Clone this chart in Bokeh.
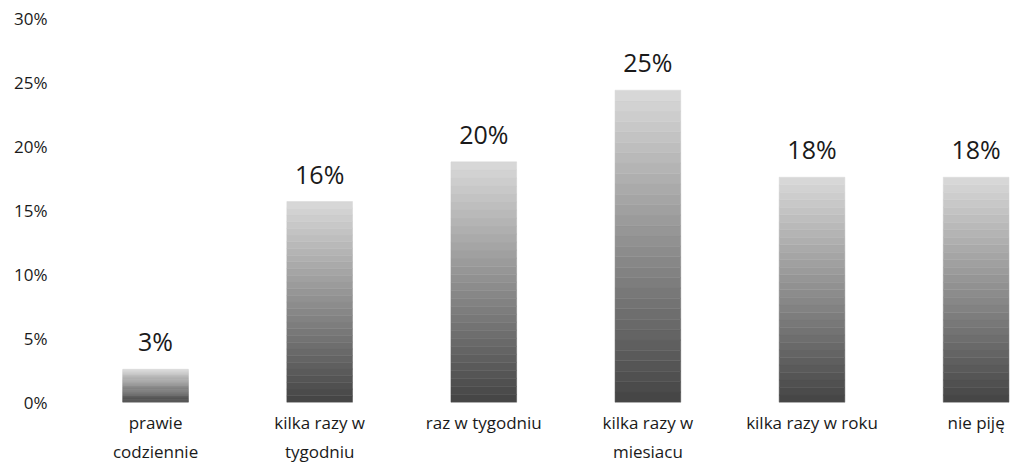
from bokeh.plotting import figure
from bokeh.models import Range1d, FixedTicker, NumeralTickFormatter, ColumnDataSource
from bokeh.core.properties import value
from bokeh.embed import file_html
from bokeh.resources import INLINE

categories = ["prawie\ncodziennie", "kilka razy w\ntygodniu", "raz w tygodniu",
              "kilka razy w\nmiesiacu", "kilka razy w roku", "nie piję"]
values = [0.026, 0.157, 0.188, 0.244, 0.176, 0.176]
value_labels = ["3%", "16%", "20%", "25%", "18%", "18%"]
y_ticks = [0.0, 0.05, 0.10, 0.15, 0.20, 0.25, 0.30]

FONT = "Open Sans"
xs = list(range(len(categories)))

p = figure(width=1015, height=466, output_backend="svg", toolbar_location=None,
           x_range=Range1d(-0.5, 5.24), y_range=Range1d(0, 0.30),
           min_border_left=73, min_border_right=0, min_border_top=18, min_border_bottom=62)
p.outline_line_color = None
p.grid.grid_line_color = None
p.background_fill_color = "white"

# gradient bars built from stacked slices
N = 30
dark = (70, 70, 70)
light = (215, 215, 215)
bx, bb, bt, bc = [], [], [], []
for x, v in zip(xs, values):
    for i in range(N):
        f = i / (N - 1)
        c = tuple(int(dark[k] + (light[k] - dark[k]) * f) for k in range(3))
        bx.append(x)
        bb.append(v * i / N)
        bt.append(v * (i + 1) / N)
        bc.append("#%02x%02x%02x" % c)
src = ColumnDataSource(dict(x=bx, bottom=bb, top=bt, color=bc))
p.vbar(x="x", bottom="bottom", top="top", width=0.4, fill_color="color",
       line_color="color", line_width=0.5, source=src)

lab = ColumnDataSource(dict(x=xs, y=values, t=value_labels))
p.text(x="x", y="y", text="t", source=lab, text_align="center", text_baseline="bottom",
       y_offset=-11, text_font=value(FONT), text_font_size="25px", text_color="#1a1a1a")

p.xaxis.ticker = FixedTicker(ticks=xs)
p.xaxis.major_label_overrides = {i: c for i, c in enumerate(categories)}
p.xaxis.axis_line_color = None
p.xaxis.major_tick_line_color = None
p.xaxis.minor_tick_line_color = None
p.xaxis.major_tick_in = 0
p.xaxis.major_tick_out = 0
p.xaxis.major_label_standoff = 8
p.xaxis.major_label_text_font = FONT
p.xaxis.major_label_text_font_size = "17px"
p.xaxis.major_label_text_line_height = 1.3
p.xaxis.major_label_text_color = "#1a1a1a"

p.yaxis.ticker = FixedTicker(ticks=y_ticks)
p.yaxis.formatter = NumeralTickFormatter(format="0%")
p.yaxis.axis_line_color = None
p.yaxis.major_tick_line_color = None
p.yaxis.minor_tick_line_color = None
p.yaxis.major_tick_in = 0
p.yaxis.major_tick_out = 0
p.yaxis.major_label_standoff = 26
p.yaxis.major_label_text_font = FONT
p.yaxis.major_label_text_font_size = "17px"
p.yaxis.major_label_text_color = "#1a1a1a"

open("out.html", "w").write(file_html(p, INLINE))
